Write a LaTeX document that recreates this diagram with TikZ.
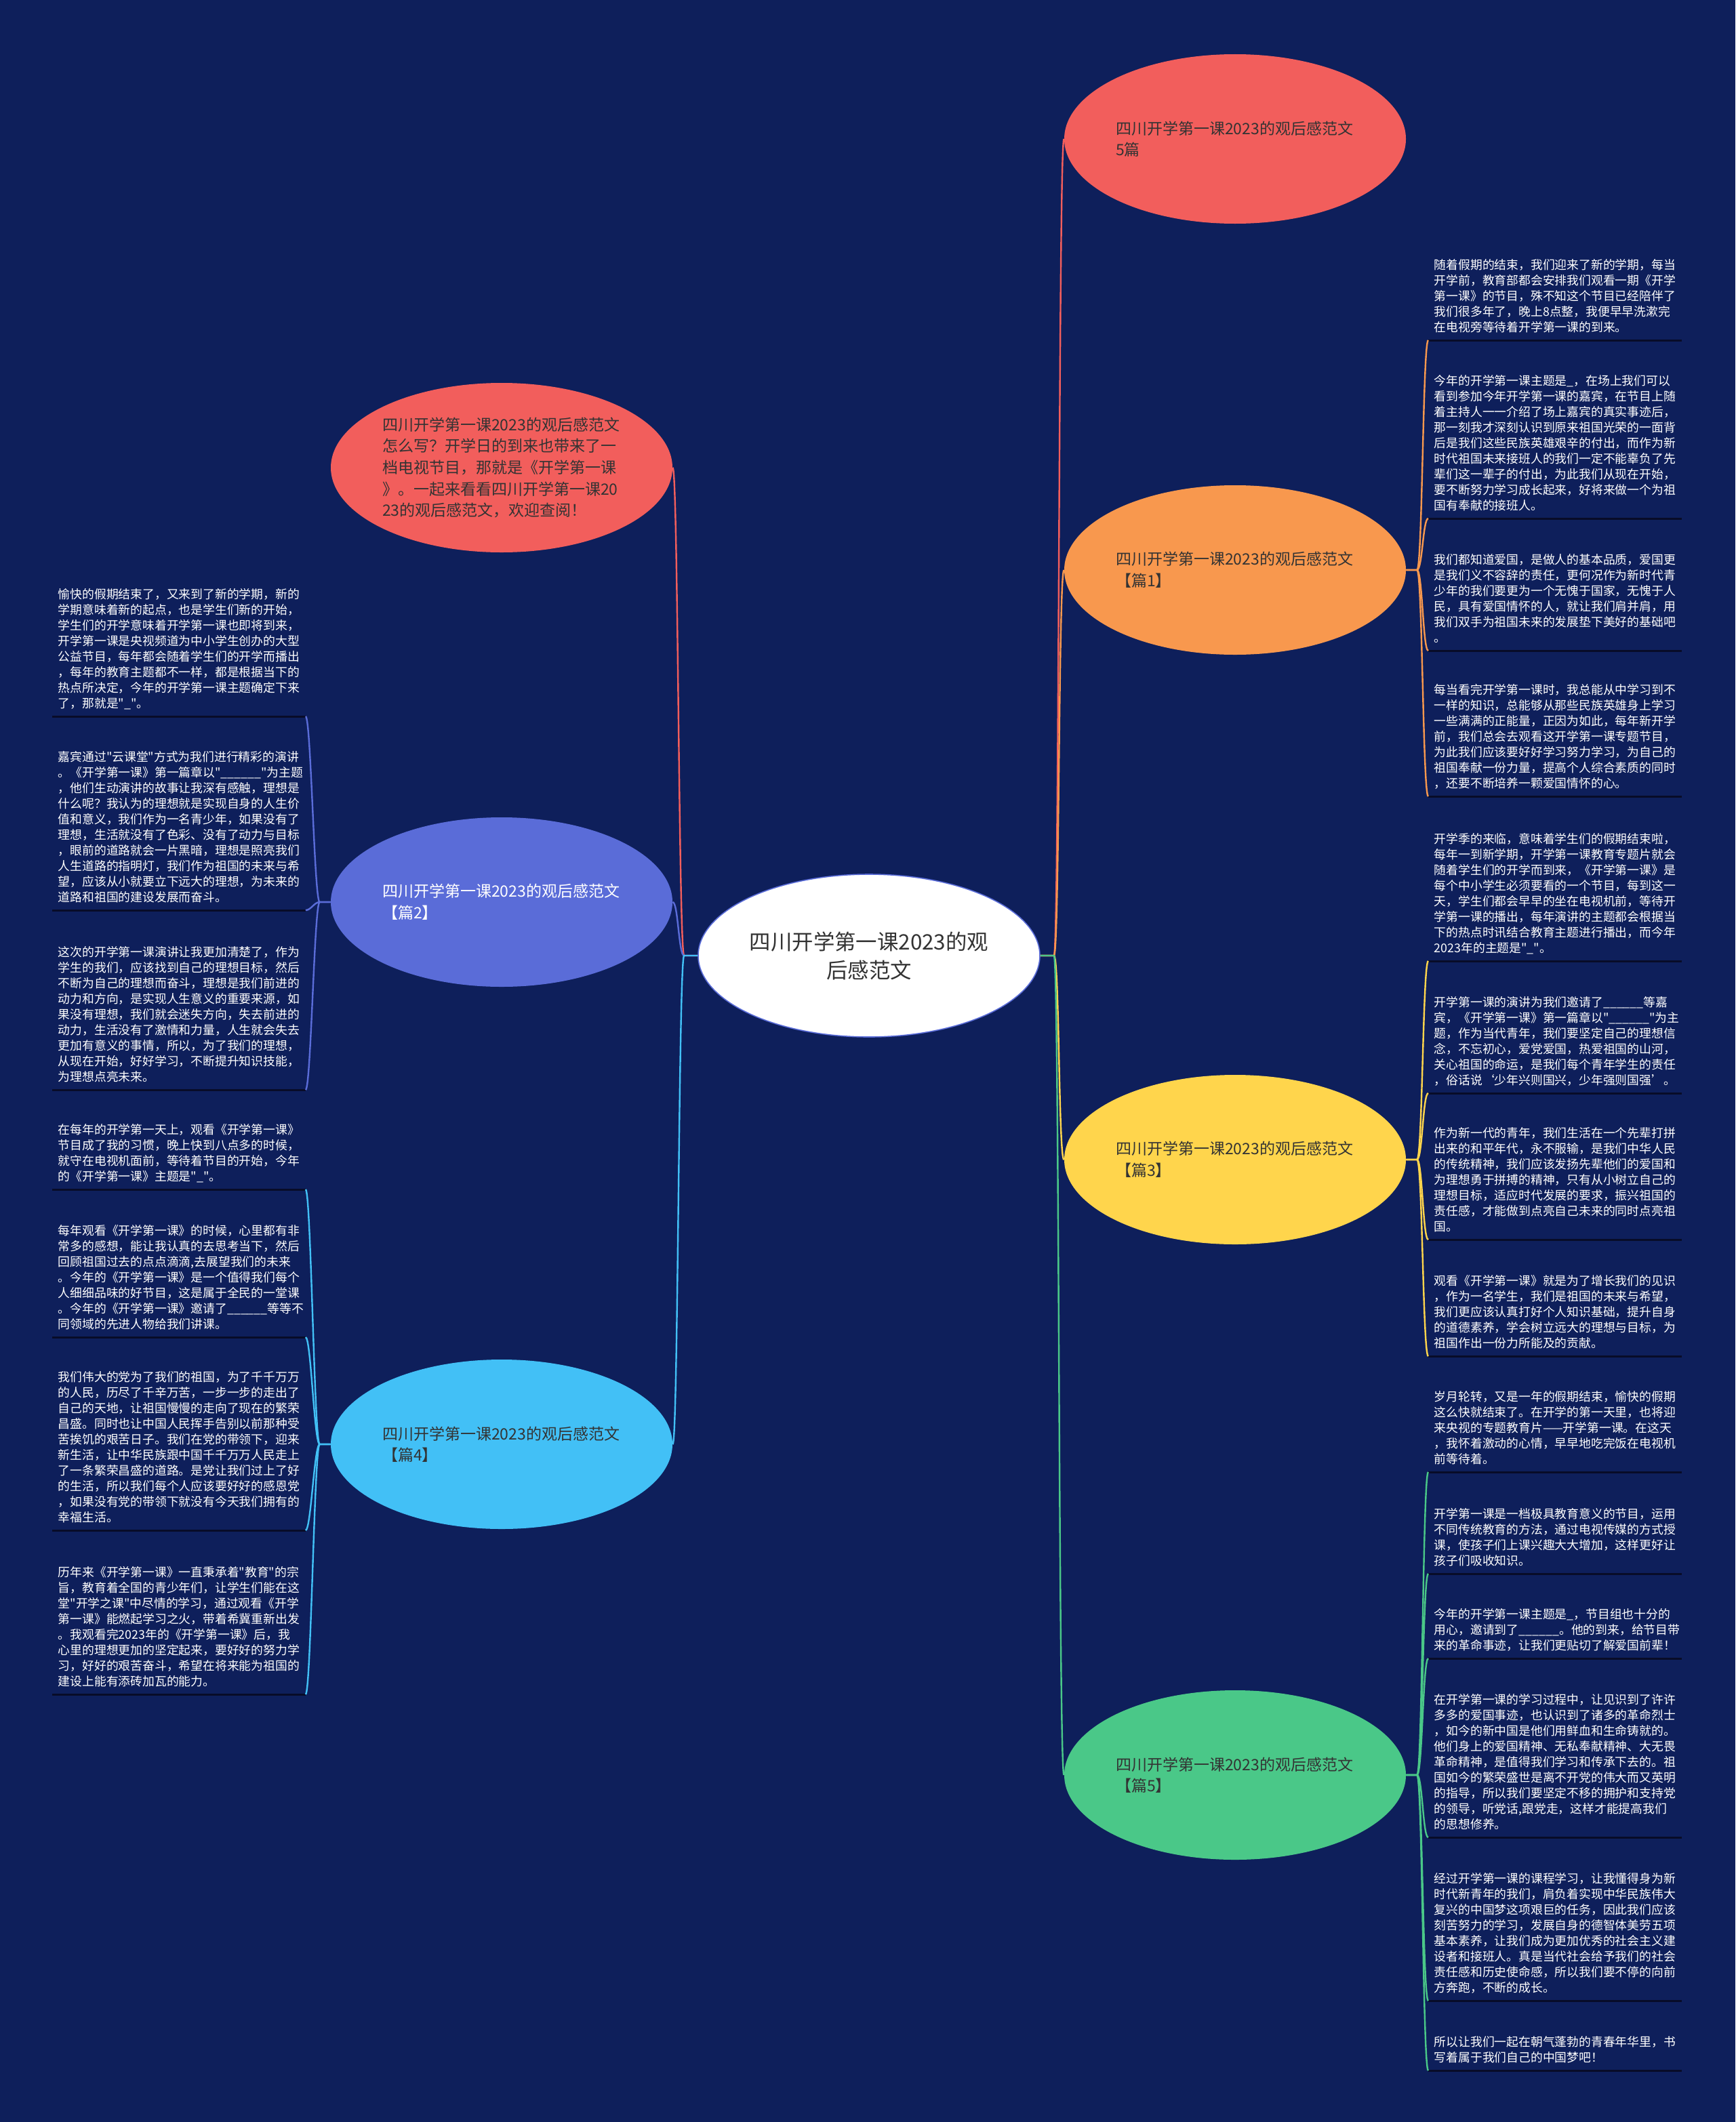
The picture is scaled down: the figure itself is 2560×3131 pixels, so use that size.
\documentclass[tikz,border=0pt]{standalone}
\usepackage{fontspec}
\usepackage{xcolor}
\usepackage{tikz}
\usetikzlibrary{shapes.geometric}
\setmainfont{Noto Sans CJK SC}[Ligatures=TeXOff]
\definecolor{navy}{RGB}{14,31,91}
\definecolor{salmon}{RGB}{242,94,92}
\definecolor{peach}{RGB}{248,152,78}
\definecolor{sun}{RGB}{255,213,76}
\definecolor{mint}{RGB}{74,200,136}
\definecolor{iris}{RGB}{90,108,216}
\definecolor{sky}{RGB}{66,192,246}
\definecolor{ink}{RGB}{51,51,51}
\definecolor{rulecol}{RGB}{8,12,40}
\newcommand{\blank}{\_\_\_\_\_\_}

\begin{document}
\begin{tikzpicture}[x=0.5pt, y=-0.5pt,
	hub/.style={ellipse, fill=white, draw=iris, line width=0.8pt, minimum width=252pt, minimum height=120pt, inner sep=0pt, text=ink, align=center, font=\fontsize{15.7pt}{21pt}\selectfont},
	bubble/.style={ellipse, minimum width=252pt, minimum height=125pt, inner sep=0pt, text=ink, text width=176pt, align=left, font=\fontsize{11.5pt}{15.8pt}\selectfont},
	leaf/.style={anchor=south west, text=white, text width=178pt, inner xsep=4.25pt, inner ysep=2.65pt, align=left, font=\fontsize{8.9pt}{11.5pt}\selectfont, execute at end node=\strut},
	branch/.style={line width=1.2pt},
	uline/.style={rulecol, line width=1.5pt}]
				\fill[navy] (0,0) rectangle (2560,3131);
				\useasboundingbox (0,0) rectangle (2560,3131);

				\node (c) [hub] at (1282,1410) {四川开学第一课2023的观\\后感范文};

				\node (intro) [bubble, fill=salmon] at (740,690) {四川开学第一课2023的观后感范文\\
怎么写？开学日的到来也带来了一\\
档电视节目，那就是《开学第一课\\
》。一起来看看四川开学第一课20\\
23的观后感范文，欢迎查阅！};
				\node (e2) [bubble, fill=iris, text=white] at (740,1331) {四川开学第一课2023的观后感范文\\【篇2】};
				\node (e4) [bubble, fill=sky] at (740,2131) {四川开学第一课2023的观后感范文\\【篇4】};
				\node (e0) [bubble, fill=salmon] at (1822,205) {四川开学第一课2023的观后感范文\\5篇};
				\node (e1) [bubble, fill=peach] at (1822,841) {四川开学第一课2023的观后感范文\\【篇1】};
				\node (e3) [bubble, fill=sun] at (1822,1711) {四川开学第一课2023的观后感范文\\【篇3】};
				\node (e5) [bubble, fill=mint] at (1822,2619) {四川开学第一课2023的观后感范文\\【篇5】};

				% left column
				\node (l1) [leaf] at (77,1057) {愉快的假期结束了，又来到了新的学期，新的\\
学期意味着新的起点，也是学生们新的开始，\\
学生们的开学意味着开学第一课也即将到来，\\
开学第一课是央视频道为中小学生创办的大型\\
公益节目，每年都会随着学生们的开学而播出\\
，每年的教育主题都不一样，都是根据当下的\\
热点所决定，今年的开学第一课主题确定下来\\
了，那就是"\_"。};
				\node (l2) [leaf] at (77,1343) {嘉宾通过"云课堂"方式为我们进行精彩的演讲\\
。《开学第一课》第一篇章以"\blank"为主题\\
，他们生动演讲的故事让我深有感触，理想是\\
什么呢？我认为的理想就是实现自身的人生价\\
值和意义，我们作为一名青少年，如果没有了\\
理想，生活就没有了色彩、没有了动力与目标\\
，眼前的道路就会一片黑暗，理想是照亮我们\\
人生道路的指明灯，我们作为祖国的未来与希\\
望，应该从小就要立下远大的理想，为未来的\\
道路和祖国的建设发展而奋斗。};
				\node (l3) [leaf] at (77,1608) {这次的开学第一课演讲让我更加清楚了，作为\\
学生的我们，应该找到自己的理想目标，然后\\
不断为自己的理想而奋斗，理想是我们前进的\\
动力和方向，是实现人生意义的重要来源，如\\
果没有理想，我们就会迷失方向，失去前进的\\
动力，生活没有了激情和力量，人生就会失去\\
更加有意义的事情，所以，为了我们的理想，\\
从现在开始，好好学习，不断提升知识技能，\\
为理想点亮未来。};
				\node (l4) [leaf] at (77,1755) {在每年的开学第一天上，观看《开学第一课》\\
节目成了我的习惯，晚上快到八点多的时候，\\
就守在电视机面前，等待着节目的开始，今年\\
的《开学第一课》主题是"\_"。};
				\node (l5) [leaf] at (77,1973) {每年观看《开学第一课》的时候，心里都有非\\
常多的感想，能让我认真的去思考当下，然后\\
回顾祖国过去的点点滴滴,去展望我们的未来\\
。今年的《开学第一课》是一个值得我们每个\\
人细细品味的好节目，这是属于全民的一堂课\\
。今年的《开学第一课》邀请了\blank 等等不\\
同领域的先进人物给我们讲课。};
				\node (l6) [leaf] at (77,2258) {我们伟大的党为了我们的祖国，为了千千万万\\
的人民，历尽了千辛万苦，一步一步的走出了\\
自己的天地，让祖国慢慢的走向了现在的繁荣\\
昌盛。同时也让中国人民挥手告别以前那种受\\
苦挨饥的艰苦日子。我们在党的带领下，迎来\\
新生活，让中华民族跟中国千千万万人民走上\\
了一条繁荣昌盛的道路。是党让我们过上了好\\
的生活，所以我们每个人应该要好好的感恩党\\
，如果没有党的带领下就没有今天我们拥有的\\
幸福生活。};
				\node (l7) [leaf] at (77,2500) {历年来《开学第一课》一直秉承着"教育"的宗\\
旨，教育着全国的青少年们，让学生们能在这\\
堂"开学之课"中尽情的学习，通过观看《开学\\
第一课》能燃起学习之火，带着希冀重新出发\\
。我观看完2023年的《开学第一课》后，我\\
心里的理想更加的坚定起来，要好好的努力学\\
习，好好的艰苦奋斗，希望在将来能为祖国的\\
建设上能有添砖加瓦的能力。};

				% right column
				\node (r1) [leaf] at (2107,502) {随着假期的结束，我们迎来了新的学期，每当\\
开学前，教育部都会安排我们观看一期《开学\\
第一课》的节目，殊不知这个节目已经陪伴了\\
我们很多年了，晚上8点整，我便早早洗漱完\\
在电视旁等待着开学第一课的到来。};
				\node (r2) [leaf] at (2107,765) {今年的开学第一课主题是\_，在场上我们可以\\
看到参加今年开学第一课的嘉宾，在节目上随\\
着主持人一一介绍了场上嘉宾的真实事迹后，\\
那一刻我才深刻认识到原来祖国光荣的一面背\\
后是我们这些民族英雄艰辛的付出，而作为新\\
时代祖国未来接班人的我们一定不能辜负了先\\
辈们这一辈子的付出，为此我们从现在开始，\\
要不断努力学习成长起来，好将来做一个为祖\\
国有奉献的接班人。};
				\node (r3) [leaf] at (2107,960) {我们都知道爱国，是做人的基本品质，爱国更\\
是我们义不容辞的责任，更何况作为新时代青\\
少年的我们要更为一个无愧于国家，无愧于人\\
民，具有爱国情怀的人，就让我们肩并肩，用\\
我们双手为祖国未来的发展垫下美好的基础吧\\
。};
				\node (r4) [leaf] at (2107,1175) {每当看完开学第一课时，我总能从中学习到不\\
一样的知识，总能够从那些民族英雄身上学习\\
一些满满的正能量，正因为如此，每年新开学\\
前，我们总会去观看这开学第一课专题节目，\\
为此我们应该要好好学习努力学习，为自己的\\
祖国奉献一份力量，提高个人综合素质的同时\\
，还要不断培养一颗爱国情怀的心。};
				\node (r5) [leaf] at (2107,1418) {开学季的来临，意味着学生们的假期结束啦，\\
每年一到新学期，开学第一课教育专题片就会\\
随着学生们的开学而到来，《开学第一课》是\\
每个中小学生必须要看的一个节目，每到这一\\
天，学生们都会早早的坐在电视机前，等待开\\
学第一课的播出，每年演讲的主题都会根据当\\
下的热点时讯结合教育主题进行播出，而今年\\
2023年的主题是"\_"。};
				\node (r6) [leaf] at (2107,1613) {开学第一课的演讲为我们邀请了\blank 等嘉\\
宾，《开学第一课》第一篇章以"\blank"为主\\
题，作为当代青年，我们要坚定自己的理想信\\
念，不忘初心，爱党爱国，热爱祖国的山河，\\
关心祖国的命运，是我们每个青年学生的责任\\
，俗话说‘少年兴则国兴，少年强则国强’。};
				\node (r7) [leaf] at (2107,1829) {作为新一代的青年，我们生活在一个先辈打拼\\
出来的和平年代，永不服输，是我们中华人民\\
的传统精神，我们应该发扬先辈他们的爱国和\\
为理想勇于拼搏的精神，只有从小树立自己的\\
理想目标，适应时代发展的要求，振兴祖国的\\
责任感，才能做到点亮自己未来的同时点亮祖\\
国。};
				\node (r8) [leaf] at (2107,2001) {观看《开学第一课》就是为了增长我们的见识\\
，作为一名学生，我们是祖国的未来与希望，\\
我们更应该认真打好个人知识基础，提升自身\\
的道德素养，学会树立远大的理想与目标，为\\
祖国作出一份力所能及的贡献。};
				\node (r9) [leaf] at (2107,2172) {岁月轮转，又是一年的假期结束，愉快的假期\\
这么快就结束了。在开学的第一天里，也将迎\\
来央视的专题教育片——开学第一课。在这天\\
，我怀着激动的心情，早早地吃完饭在电视机\\
前等待着。};
				\node (r10) [leaf] at (2107,2322) {开学第一课是一档极具教育意义的节目，运用\\
不同传统教育的方法，通过电视传媒的方式授\\
课，使孩子们上课兴趣大大增加，这样更好让\\
孩子们吸收知识。};
				\node (r11) [leaf] at (2107,2447) {今年的开学第一课主题是\_，节目组也十分的\\
用心，邀请到了\blank。他的到来，给节目带\\
来的革命事迹，让我们更贴切了解爱国前辈！};
				\node (r12) [leaf] at (2107,2711) {在开学第一课的学习过程中，让见识到了许许\\
多多的爱国事迹，也认识到了诸多的革命烈士\\
，如今的新中国是他们用鲜血和生命铸就的。\\
他们身上的爱国精神、无私奉献精神、大无畏\\
革命精神，是值得我们学习和传承下去的。祖\\
国如今的繁荣盛世是离不开党的伟大而又英明\\
的指导，所以我们要坚定不移的拥护和支持党\\
的领导，听党话,跟党走，这样才能提高我们\\
的思想修养。};
				\node (r13) [leaf] at (2107,2952) {经过开学第一课的课程学习，让我懂得身为新\\
时代新青年的我们，肩负着实现中华民族伟大\\
复兴的中国梦这项艰巨的任务，因此我们应该\\
刻苦努力的学习，发展自身的德智体美劳五项\\
基本素养，让我们成为更加优秀的社会主义建\\
设者和接班人。真是当代社会给予我们的社会\\
责任感和历史使命感，所以我们要不停的向前\\
方奔跑，不断的成长。};
				\node (r14) [leaf] at (2107,3055) {所以让我们一起在朝气蓬勃的青春年华里，书\\
写着属于我们自己的中国梦吧！};

				\foreach \n in {l1,l2,l3,l4,l5,l6,l7,r1,r2,r3,r4,r5,r6,r7,r8,r9,r10,r11,r12,r13,r14}
					\draw[uline] (\n.south west) -- (\n.south east);

				\draw[branch, salmon] (c.west) -- ++(-20,0) .. controls +(-8,0) and +(8,0) .. (intro.east);
				\draw[branch, iris] (c.west) -- ++(-20,0) .. controls +(-8,0) and +(8,0) .. (e2.east);
				\draw[branch, sky] (c.west) -- ++(-20,0) .. controls +(-8,0) and +(8,0) .. (e4.east);
				\draw[branch, salmon] (c.east) -- ++(20,0) .. controls +(8,0) and +(-8,0) .. (e0.west);
				\draw[branch, peach] (c.east) -- ++(20,0) .. controls +(8,0) and +(-8,0) .. (e1.west);
				\draw[branch, sun] (c.east) -- ++(20,0) .. controls +(8,0) and +(-8,0) .. (e3.west);
				\draw[branch, mint] (c.east) -- ++(20,0) .. controls +(8,0) and +(-8,0) .. (e5.west);

				\foreach \n in {l1,l2,l3}
					\draw[branch, iris] (e2.west) -- ++(-16,0) .. controls +(-8,0) and +(8,0) .. (\n.south east);
				\foreach \n in {l4,l5,l6,l7}
					\draw[branch, sky] (e4.west) -- ++(-16,0) .. controls +(-8,0) and +(8,0) .. (\n.south east);
				\foreach \n in {r1,r2,r3,r4}
					\draw[branch, peach] (e1.east) -- ++(16,0) .. controls +(8,0) and +(-8,0) .. (\n.south west);
				\foreach \n in {r5,r6,r7,r8}
					\draw[branch, sun] (e3.east) -- ++(16,0) .. controls +(8,0) and +(-8,0) .. (\n.south west);
				\foreach \n in {r9,r10,r11,r12,r13,r14}
					\draw[branch, mint] (e5.east) -- ++(16,0) .. controls +(8,0) and +(-8,0) .. (\n.south west);
			\end{tikzpicture}
\end{document}
